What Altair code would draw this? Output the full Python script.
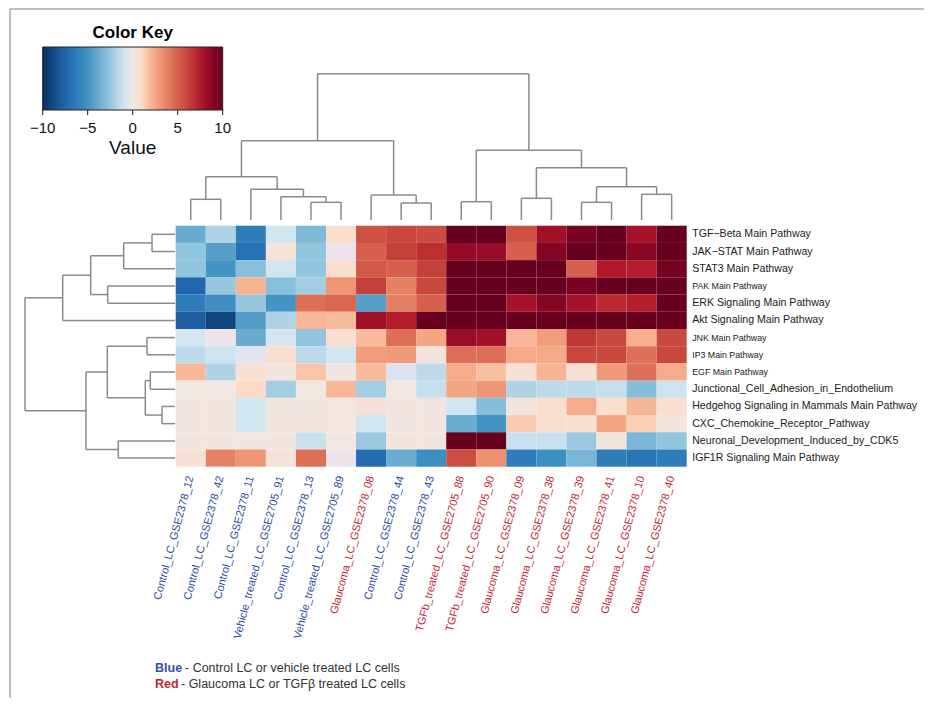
import json
import altair as alt
import pandas as pd

FONT = "Liberation Sans"

# ---------------- data ----------------
samples = [
    "Control_LC_GSE2378_12", "Control_LC_GSE2378_42", "Control_LC_GSE2378_11",
    "Vehicle_treated_LC_GSE2705_91", "Control_LC_GSE2378_13", "Vehicle_treated_LC_GSE2705_89",
    "Glaucoma_LC_GSE2378_08", "Control_LC_GSE2378_44", "Control_LC_GSE2378_43",
    "TGFb_treated_LC_GSE2705_88", "TGFb_treated_LC_GSE2705_90", "Glaucoma_LC_GSE2378_09",
    "Glaucoma_LC_GSE2378_38", "Glaucoma_LC_GSE2378_39", "Glaucoma_LC_GSE2378_41",
    "Glaucoma_LC_GSE2378_10", "Glaucoma_LC_GSE2378_40",
]
sample_group = ["blue"] * 6 + ["red", "blue", "blue"] + ["red"] * 8

pathways = [
    "TGF\u2212Beta Main Pathway", "JAK\u2212STAT Main Pathway", "STAT3 Main Pathway",
    "PAK Main Pathway", "ERK Signaling Main Pathway", "Akt Signaling Main Pathway",
    "JNK Main Pathway", "IP3 Main Pathway", "EGF Main Pathway",
    "Junctional_Cell_Adhesion_in_Endothelium", "Hedgehog Signaling in Mammals Main Pathway",
    "CXC_Chemokine_Receptor_Pathway", "Neuronal_Development_Induced_by_CDK5",
    "IGF1R Signaling Main Pathway",
]
small_label_pathways = ["PAK Main Pathway", "JNK Main Pathway", "IP3 Main Pathway", "EGF Main Pathway"]

v_tgf_beta = [-3.8, -1.8, -6.3, -1, -3.1, 0.8, 5.6, 6, 5.8, 10, 10, 5.6, 8.1, 9.4, 10, 7.9, 10]
v_jak_stat = [-2.5, -4.4, -6.9, 0.5, -2.5, -0.5, 5, 6.3, 6.9, 8.5, 8.4, 5, 9, 10, 10, 8.8, 10]
v_stat3 = [-2.5, -5, -2.8, -1, -2.5, 0.8, 5.3, 5, 6.3, 10, 10, 10, 10, 5, 7.5, 7.4, 9.5]
v_pak = [-7.5, -2.4, 2.1, -2.8, -2.1, 3.1, 6.3, 3.8, 6, 10, 10, 10, 10, 9.4, 10, 10, 10]
v_erk = [-6.3, -5.3, -2.4, -5, 4.4, 4.8, -4.4, 3.8, 5, 10, 10, 7.9, 9, 7.9, 7, 7.4, 10]
v_akt = [-7.9, -9, -4.5, -1.8, 2, 1.9, 8.1, 7.4, 10, 10, 10, 10, 10, 10, 10, 10, 10]
v_jnk = [-0.9, -0.4, -3.8, -0.9, -2.5, 0.7, 1.9, 4.5, 2.5, 8.3, 8, 2, 2.8, 6.6, 5.9, 2.2, 5.9]
v_ip3 = [-1.5, -1.1, -0.7, 0.8, -1.5, -1, 2.8, 2.9, 0.4, 4.5, 4.5, 2.4, 2.4, 6, 6, 4.4, 6]
v_egf = [2, -1.8, 0.6, 0.25, 1.6, 0.25, 1.9, -0.8, -1.5, 2.3, 1.8, 0.6, 2.1, 0.6, 2.9, 4.4, 2.3]
v_junctional = [0.15, 0.15, 1, -2.1, 0.15, 2, -2.1, 0.15, -1.3, 2.5, 3.1, -1.8, -1.5, -1.5, -1.3, -2.9, -1.1]
v_hedgehog = [0.25, 0.25, -1, 0.25, 0.25, 0.2, 0.55, 0.25, 0.25, -1, -2.9, 0.3, 0.75, 2.3, 0.8, 2.05, 0.75]
v_cxc = [0.25, 0.25, -1, 0.25, 0.25, 0.2, -1, 0.25, 0.25, -3.75, -5, 1.45, 0.7, 0.7, 2.5, 1.3, 0.3]
v_neuronal = [0.25, 0.25, 0.3, 0.25, -1.15, 0.15, -2.35, 0.25, 0.25, 10, 10, -1.2, -1.2, -2.35, 0.3, -3.25, -2.5]
v_igf1r = [0.65, 3.75, 3.1, 0.4, 4.5, -0.4, -7.1, -3.75, -5.25, 5.75, 3.25, -6.25, -5.25, -3.25, -6.25, -6.6, -6.25]

row_values = [v_tgf_beta, v_jak_stat, v_stat3, v_pak, v_erk, v_akt, v_jnk, v_ip3,
              v_egf, v_junctional, v_hedgehog, v_cxc, v_neuronal, v_igf1r]

# dendrograms (hclust-style merge: negative = leaf in display order, positive = earlier merge)
col_merge = [[-1, -2], [-5, -6], [-4, 2], [-3, 3], [1, 4], [-8, -9], [-7, 6], [5, 7],
             [-10, -11], [-12, -13], [-14, -15], [-16, -17], [11, 12], [10, 13], [9, 14], [8, 15]]
col_height = [20.7, 17.7, 23.3, 30.7, 43.3, 17, 25, 79.3, 18.3, 21.7, 17.7, 25.7, 33.3, 52.3, 69.7, 146.3]

row_merge = [[-1, -2], [-3, 1], [-4, -5], [2, 3], [-6, 4], [-7, -8], [-9, -10], [-11, -12],
             [7, 8], [6, 9], [-13, -14], [10, 11], [5, 12]]
row_height = [23, 51.3, 67.3, 84.3, 112.3, 28, 24.7, 13, 29.7, 67.7, 56.7, 89, 150]

key_ticks = [-10, -5, 0, 5, 10]
key_tick_labels = ["\u221210", "\u22125", "0", "5", "10"]

legend_words = ["Blue", "Red"]
legend_text = ["- Control LC or vehicle treated LC cells", "- Glaucoma LC or TGF\u03b2 treated LC cells"]

# ---------------- tables ----------------
heat_df = pd.DataFrame(
    [{"pathway": p, "sample": s, "value": v}
     for p, vals in zip(pathways, row_values) for s, v in zip(samples, vals)]
)


def dendro_segments(merge, heights):
    pos, segs = [], []

    def child(k):
        if k < 0:
            return float(-k - 1), 0.0
        return pos[k - 1], heights[k - 1]

    for i, (a, b) in enumerate(merge):
        pa, ha = child(a)
        pb, hb = child(b)
        h = heights[i]
        segs.append({"p1": pa, "p2": pa, "h1": ha, "h2": h})
        segs.append({"p1": pb, "p2": pb, "h1": hb, "h2": h})
        segs.append({"p1": pa, "p2": pb, "h1": h, "h2": h})
        pos.append((pa + pb) / 2)
    return pd.DataFrame(segs)


col_seg = dendro_segments(col_merge, col_height)
row_seg = dendro_segments(row_merge, row_height)
key_df = pd.DataFrame({"t": key_ticks, "lab": key_tick_labels})

# ---------------- layout (view pixels) ----------------
W, H = 916, 690
HX0, HX1 = 167.7, 678.7      # heatmap left/right
HY0, HY1 = 217.7, 458.7      # heatmap top/bottom
CD_Y0, CD_Y1 = 212, 65.7     # column dendrogram leaf base / root
RD_X0, RD_X1 = 167, 17       # row dendrogram leaf base / root
KX0, KX1 = 34.7, 214.7       # colour key extent
KY1 = 101                    # colour key bottom

blue_list = json.dumps([s for s, g in zip(samples, sample_group) if g == "blue"])
small_list = json.dumps(small_label_pathways)

color_domain = [-10, -7.5, -5, -2.5, -1, 0, 1, 2.5, 5, 7.5, 10]
color_range = ["#053061", "#2166ac", "#4393c3", "#92c5de", "#d1e5f0", "#ede9e7",
               "#fddbc7", "#f4a582", "#d6604d", "#b2182b", "#67001f"]

heat = alt.Chart(heat_df).mark_rect().encode(
    x=alt.X("sample:N", sort=samples,
            scale=alt.Scale(range=[HX0, HX1], paddingInner=0, paddingOuter=0),
            axis=alt.Axis(orient="bottom", offset=HY1 - H, title=None, domain=False, ticks=False,
                          labelAngle=-75, labelAlign="right", labelBaseline="middle",
                          labelPadding=9, labelFontSize=11, labelFont=FONT, labelLimit=0,
                          labelOverlap=False,
                          labelColor={"condition": {"test": f"indexof({blue_list}, datum.value) >= 0",
                                                    "value": "#2a4a9e"},
                                      "value": "#c21f3a"})),
    y=alt.Y("pathway:N", sort=pathways,
            scale=alt.Scale(range=[HY0, HY1], paddingInner=0, paddingOuter=0),
            axis=alt.Axis(orient="right", offset=HX1 - W, title=None, domain=False, ticks=False,
                          labelPadding=5, labelFont=FONT, labelColor="#1a1a1a", labelLimit=0,
                          labelOverlap=False,
                          labelFontSize={"condition": {"test": f"indexof({small_list}, datum.value) >= 0",
                                                       "value": 8.8},
                                         "value": 10.6})),
    color=alt.Color("value:Q",
                    scale=alt.Scale(domain=color_domain, range=color_range),
                    legend=alt.Legend(orient="none", legendX=KX0, legendY=17, direction="horizontal",
                                      title="Color Key", titleFont=FONT, titleFontSize=17,
                                      titleFontWeight="bold", titleColor="#000", titleAnchor="middle",
                                      titlePadding=5, gradientLength=180, gradientThickness=63,
                                      gradientStrokeColor="#222", gradientStrokeWidth=1,
                                      labelOpacity=0, labelFontSize=1, values=key_ticks)),
)

line_color = "#8a8a8a"

col_dendro = alt.Chart(col_seg).mark_rule(color=line_color, strokeWidth=1.5).encode(
    x=alt.X("p1:Q", scale=alt.Scale(domain=[-0.5, len(samples) - 0.5], range=[HX0, HX1]), axis=None),
    x2="p2:Q",
    y=alt.Y("h1:Q", scale=alt.Scale(domain=[0, max(col_height)], range=[CD_Y0, CD_Y1]), axis=None),
    y2="h2:Q",
)

row_dendro = alt.Chart(row_seg).mark_rule(color=line_color, strokeWidth=1.5).encode(
    y=alt.Y("p1:Q", scale=alt.Scale(domain=[-0.5, len(pathways) - 0.5], range=[HY0, HY1]), axis=None),
    y2="p2:Q",
    x=alt.X("h1:Q", scale=alt.Scale(domain=[0, max(row_height)], range=[RD_X0, RD_X1]), axis=None),
    x2="h2:Q",
)

key_x = alt.X("t:Q", scale=alt.Scale(domain=[-10, 10], range=[KX0, KX1]), axis=None)

key_tick_marks = alt.Chart(key_df).mark_rule(color="#111", strokeWidth=1).encode(
    x=key_x, y=alt.value(KY1), y2=alt.value(KY1 + 6),
)
key_tick_text = alt.Chart(key_df).mark_text(
    font=FONT, fontSize=15, color="#111", align="center", baseline="middle"
).encode(x=key_x, y=alt.value(KY1 + 19), text="lab:N")

value_text = alt.Chart(pd.DataFrame({"t": ["Value"]})).mark_text(
    font=FONT, fontSize=19, color="#111", baseline="middle", align="center"
).encode(text="t:N", x=alt.value((KX0 + KX1) / 2), y=alt.value(140))

leg1a = alt.Chart(pd.DataFrame({"t": [legend_words[0]]})).mark_text(
    font=FONT, fontSize=12.5, fontWeight="bold", color="#3a4fa3", align="left", baseline="middle"
).encode(text="t:N", x=alt.value(147), y=alt.value(660))
leg1b = alt.Chart(pd.DataFrame({"t": [legend_text[0]]})).mark_text(
    font=FONT, fontSize=12.5, color="#333", align="left", baseline="middle"
).encode(text="t:N", x=alt.value(177), y=alt.value(660))
leg2a = alt.Chart(pd.DataFrame({"t": [legend_words[1]]})).mark_text(
    font=FONT, fontSize=12.5, fontWeight="bold", color="#c0243c", align="left", baseline="middle"
).encode(text="t:N", x=alt.value(147), y=alt.value(676))
leg2b = alt.Chart(pd.DataFrame({"t": [legend_text[1]]})).mark_text(
    font=FONT, fontSize=12.5, color="#333", align="left", baseline="middle"
).encode(text="t:N", x=alt.value(173), y=alt.value(676))

frame_df = pd.DataFrame({"k": [0]})
frame_left = alt.Chart(frame_df).mark_rule(color="#a8a8a8", strokeWidth=1.5).encode(
    x=alt.value(2), y=alt.value(1), y2=alt.value(H))
frame_top = alt.Chart(frame_df).mark_rule(color="#a8a8a8", strokeWidth=1.5).encode(
    x=alt.value(2), x2=alt.value(W), y=alt.value(1))

chart = alt.layer(
    heat, col_dendro, row_dendro, key_tick_marks, key_tick_text, value_text,
    leg1a, leg1b, leg2a, leg2b, frame_left, frame_top,
).resolve_scale(x="independent", y="independent").properties(
    width=W, height=H, padding=0, autosize=alt.AutoSizeParams(type="none")
).configure_view(stroke=None)

chart.save("out.html", embed_options={"renderer": "svg", "actions": False})
